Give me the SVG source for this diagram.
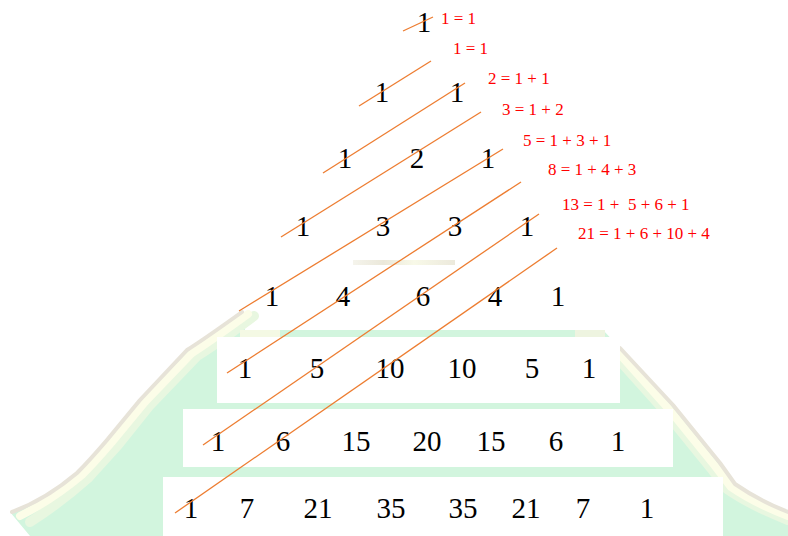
<svg xmlns="http://www.w3.org/2000/svg" width="788" height="536" viewBox="0 0 788 536">
<defs>
<linearGradient id="stripe" x1="0" y1="0" x2="1" y2="0">
<stop offset="0" stop-color="#f5f4ec"/>
<stop offset="0.3" stop-color="#ebe8da"/>
<stop offset="0.6" stop-color="#f8f9e8"/>
<stop offset="1" stop-color="#ecE9dc"/>
</linearGradient>
<style>
.n{font-family:"Liberation Serif","Times New Roman",serif;font-size:29px;fill:#000;text-anchor:middle}
.l{font-family:"Liberation Serif","Times New Roman",serif;font-size:17px;fill:#ff0000}
.c line{stroke:#ed7d31;stroke-width:1.3;fill:none}
.edgeO{fill:none;stroke:#e7e3d8;stroke-width:4;stroke-linejoin:round;stroke-linecap:round}
.edgeI{fill:none;stroke:#fcfde8;stroke-width:8;stroke-linejoin:round;stroke-linecap:round}
.edgeG{fill:none;stroke:#e8f7e0;stroke-width:10;stroke-linejoin:round;stroke-linecap:round}
</style>
</defs>
<rect width="788" height="536" fill="#fff"/>
<g id="background">
<path fill="#d2f5de" d="M242,312 L245,330 L603,330 L620,348 L673,405 L720,463 L735,484 Q755,500 788,512 L788,536 L30,536 L10,512 Q45,500 77,473 Q95,455 107,440 L140,400 Q170,365 187,350 Z"/>
<path class="edgeG" d="M254,316 Q215,345 197,356 L150,405 L118,445 Q100,465 88,478 Q60,503 30,522"/>
<path class="edgeI" d="M248,314 Q208,343 192,353 L145,402 L112,442 Q95,462 82,475 Q52,500 20,516"/>
<path class="edgeO" d="M242,312 Q203,340 187,350 L140,400 L107,440 Q90,460 77,473 Q45,500 12,512"/>
<path class="edgeG" d="M612,352 L664,410 L711,468 L727,489 Q750,505 788,520"/>
<path class="edgeI" d="M616,350 L668,408 L715,466 L731,487 Q754,503 788,516"/>
<path class="edgeO" d="M620,348 L673,405 L720,463 L735,484 Q758,500 788,512"/>
<rect x="240" y="330" width="40" height="7" fill="#f4f9e4"/>
<rect x="575" y="330" width="30" height="7" fill="#eef4e0"/>
<rect x="353" y="260" width="102" height="5" fill="url(#stripe)"/>
<rect x="217" y="337" width="403" height="66" fill="#fff"/>
<rect x="183" y="409" width="490" height="58" fill="#fff"/>
<rect x="163" y="477" width="560" height="59" fill="#fff"/>
</g>
<g id="r1"><text class="n" x="424" y="32">1</text></g>
<g id="r2"><text class="n" x="382" y="102">1</text><text class="n" x="457" y="102">1</text></g>
<g id="r3"><text class="n" x="345" y="168">1</text><text class="n" x="417" y="168">2</text><text class="n" x="488" y="168">1</text></g>
<g id="r4"><text class="n" x="303" y="236">1</text><text class="n" x="383" y="236">3</text><text class="n" x="455" y="236">3</text><text class="n" x="527" y="236">1</text></g>
<g id="r5"><text class="n" x="272" y="306">1</text><text class="n" x="343" y="306">4</text><text class="n" x="423" y="306">6</text><text class="n" x="495" y="306">4</text><text class="n" x="558" y="306">1</text></g>
<g id="r6"><text class="n" x="245" y="378">1</text><text class="n" x="317" y="378">5</text><text class="n" x="390" y="378">10</text><text class="n" x="462" y="378">10</text><text class="n" x="532" y="378">5</text><text class="n" x="589" y="378">1</text></g>
<g id="r7"><text class="n" x="218" y="451">1</text><text class="n" x="283" y="451">6</text><text class="n" x="356" y="451">15</text><text class="n" x="427" y="451">20</text><text class="n" x="491" y="451">15</text><text class="n" x="556" y="451">6</text><text class="n" x="618" y="451">1</text></g>
<g id="r8"><text class="n" x="191" y="518">1</text><text class="n" x="247" y="518">7</text><text class="n" x="318" y="518">21</text><text class="n" x="391" y="518">35</text><text class="n" x="463" y="518">35</text><text class="n" x="526" y="518">21</text><text class="n" x="583" y="518">7</text><text class="n" x="647" y="518">1</text></g>
<g id="connectors" class="c">
<line x1="403" y1="31" x2="433" y2="17"/>
<line x1="359" y1="106" x2="431" y2="61"/>
<line x1="323" y1="173" x2="465" y2="83"/>
<line x1="281" y1="237" x2="481" y2="112"/>
<line x1="239" y1="311" x2="503" y2="149"/>
<line x1="227" y1="373" x2="521" y2="182"/>
<line x1="203" y1="445" x2="539" y2="214"/>
<line x1="175" y1="513" x2="557" y2="248"/>
</g>
<g id="labels">
<text class="l" x="441" y="24">1 = 1</text>
<text class="l" x="453" y="54">1 = 1</text>
<text class="l" x="488" y="84">2 = 1 + 1</text>
<text class="l" x="502" y="115">3 = 1 + 2</text>
<text class="l" x="523" y="146">5 = 1 + 3 + 1</text>
<text class="l" x="548" y="175">8 = 1 + 4 + 3</text>
<text class="l" x="562" y="210" xml:space="preserve">13 = 1 +  5 + 6 + 1</text>
<text class="l" x="578" y="239">21 = 1 + 6 + 10 + 4</text>
</g>
</svg>
